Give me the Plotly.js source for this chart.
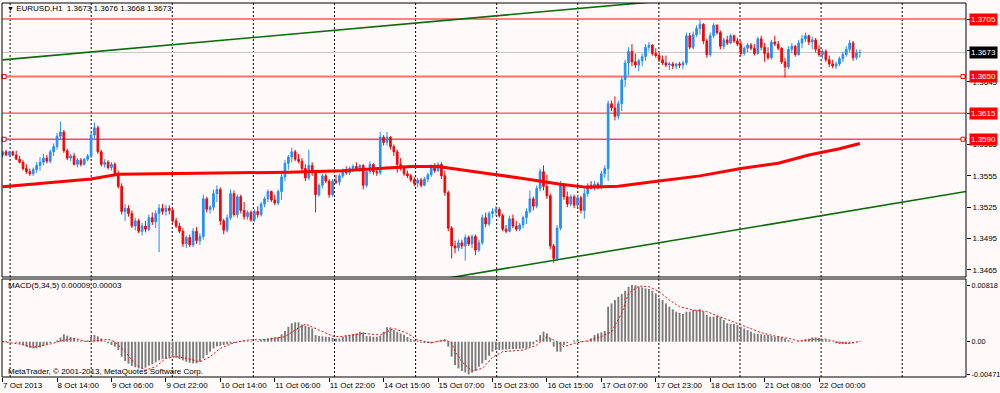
<!DOCTYPE html>
<html><head><meta charset="utf-8">
<script src="https://cdn.plot.ly/plotly-3.0.1.min.js"></script>
<style>html,body{margin:0;padding:0;background:#FFFAFA;}#chart{width:1000px;height:393px;}</style>
</head><body><div id="chart"></div>
<script>
// ---------- DATA ----------
const symbol = 'EURUSD,H1';
const tickLabels = ['7 Oct 2013','8 Oct 14:00','9 Oct 06:00','9 Oct 22:00','10 Oct 14:00','11 Oct 06:00','11 Oct 22:00','14 Oct 15:00','15 Oct 07:00','15 Oct 23:00','16 Oct 15:00','17 Oct 07:00','17 Oct 23:00','18 Oct 15:00','21 Oct 08:00','22 Oct 00:00'];
const tickBars = [0,16,32,48,64,80,96,112,128,144,160,176,192,208,224,240];

const open = [1.3575,1.3578,1.3575,1.3578,1.3575,1.3571,1.3568,1.3562,1.3559,1.3557,
1.3561,1.3565,1.3568,1.3572,1.3569,1.3578,1.3583,1.3593,1.3597,1.3579,
1.3572,1.3574,1.3566,1.3570,1.3566,1.3571,1.3574,1.3594,1.3601,1.3578,
1.3566,1.3568,1.3563,1.3566,1.3557,1.3545,1.3521,1.3524,1.3519,1.3507,
1.3512,1.3502,1.3507,1.3504,1.3515,1.3511,1.3519,1.3524,1.3521,1.3524,
1.3522,1.3512,1.3507,1.3502,1.3490,1.3496,1.3489,1.3502,1.3493,1.3497,
1.3533,1.3523,1.3525,1.3538,1.3542,1.3512,1.3503,1.3515,1.3538,1.3518,
1.3535,1.3522,1.3516,1.3520,1.3513,1.3521,1.3518,1.3528,1.3533,1.3540,
1.3532,1.3529,1.3540,1.3554,1.3567,1.3573,1.3578,1.3571,1.3569,1.3562,
1.3553,1.3565,1.3558,1.3537,1.3546,1.3555,1.3550,1.3537,1.3550,1.3549,
1.3555,1.3560,1.3558,1.3562,1.3564,1.3562,1.3565,1.3546,1.3559,1.3566,
1.3559,1.3558,1.3592,1.3587,1.3592,1.3583,1.3578,1.3566,1.3562,1.3557,
1.3555,1.3551,1.3548,1.3551,1.3546,1.3552,1.3556,1.3564,1.3560,1.3566,
1.3555,1.3539,1.3505,1.3488,1.3486,1.3491,1.3488,1.3496,1.3490,1.3497,
1.3484,1.3491,1.3515,1.3509,1.3519,1.3521,1.3523,1.3517,1.3504,1.3502,
1.3514,1.3507,1.3504,1.3508,1.3515,1.3521,1.3533,1.3526,1.3543,1.3559,
1.3545,1.3536,1.3488,1.3476,1.3505,1.3546,1.3535,1.3528,1.3535,1.3527,
1.3534,1.3522,1.3538,1.3546,1.3544,1.3547,1.3544,1.3557,1.3562,1.3624,
1.3620,1.3612,1.3624,1.3647,1.3663,1.3674,1.3664,1.3661,1.3665,1.3669,
1.3678,1.3680,1.3672,1.3670,1.3666,1.3663,1.3661,1.3662,1.3660,1.3662,
1.3661,1.3663,1.3689,1.3678,1.3690,1.3696,1.3700,1.3684,1.3671,1.3689,
1.3699,1.3692,1.3679,1.3685,1.3682,1.3689,1.3684,1.3681,1.3672,1.3677,
1.3680,1.3677,1.3672,1.3686,1.3678,1.3672,1.3668,1.3683,1.3681,1.3677,
1.3664,1.3659,1.3676,1.3679,1.3671,1.3682,1.3686,1.3689,1.3683,1.3685,
1.3676,1.3671,1.3674,1.3666,1.3662,1.3660,1.3662,1.3667,1.3671,1.3676,
1.3682,1.3668,1.3673];

const high = [1.3579,1.3580,1.3579,1.3579,1.3579,1.3574,1.3570,1.3566,1.3562,1.3563,
1.3568,1.3573,1.3576,1.3575,1.3580,1.3586,1.3596,1.3607,1.3599,1.3581,
1.3576,1.3577,1.3572,1.3572,1.3572,1.3576,1.3596,1.3606,1.3603,1.3580,
1.3571,1.3570,1.3568,1.3568,1.3560,1.3548,1.3528,1.3527,1.3522,1.3515,
1.3514,1.3510,1.3512,1.3518,1.3520,1.3522,1.3528,1.3528,1.3527,1.3527,
1.3524,1.3515,1.3510,1.3505,1.3498,1.3499,1.3505,1.3506,1.3500,1.3537,
1.3535,1.3527,1.3542,1.3546,1.3544,1.3514,1.3518,1.3542,1.3541,1.3537,
1.3537,1.3530,1.3522,1.3522,1.3523,1.3526,1.3530,1.3535,1.3542,1.3541,
1.3537,1.3542,1.3557,1.3570,1.3575,1.3582,1.3580,1.3576,1.3572,1.3566,
1.3580,1.3568,1.3560,1.3548,1.3557,1.3557,1.3552,1.3552,1.3556,1.3557,
1.3562,1.3564,1.3564,1.3566,1.3568,1.3566,1.3566,1.3561,1.3569,1.3567,
1.3562,1.3597,1.3594,1.3597,1.3593,1.3585,1.3580,1.3572,1.3565,1.3560,
1.3557,1.3554,1.3553,1.3553,1.3554,1.3558,1.3566,1.3567,1.3568,1.3568,
1.3560,1.3541,1.3507,1.3493,1.3494,1.3494,1.3499,1.3498,1.3499,1.3499,
1.3494,1.3518,1.3520,1.3521,1.3524,1.3526,1.3525,1.3519,1.3508,1.3517,
1.3518,1.3512,1.3510,1.3517,1.3524,1.3541,1.3535,1.3546,1.3562,1.3565,
1.3556,1.3538,1.3490,1.3508,1.3550,1.3548,1.3540,1.3537,1.3537,1.3537,
1.3536,1.3543,1.3548,1.3550,1.3550,1.3549,1.3560,1.3565,1.3627,1.3627,
1.3631,1.3627,1.3650,1.3666,1.3678,1.3681,1.3672,1.3667,1.3672,1.3681,
1.3683,1.3681,1.3677,1.3674,1.3670,1.3670,1.3664,1.3664,1.3663,1.3664,
1.3665,1.3692,1.3692,1.3693,1.3699,1.3705,1.3701,1.3686,1.3692,1.3701,
1.3700,1.3694,1.3687,1.3689,1.3691,1.3690,1.3687,1.3684,1.3679,1.3682,
1.3682,1.3681,1.3688,1.3689,1.3682,1.3678,1.3685,1.3689,1.3684,1.3678,
1.3668,1.3679,1.3682,1.3680,1.3685,1.3690,1.3692,1.3690,1.3688,1.3687,
1.3680,1.3676,1.3676,1.3670,1.3666,1.3664,1.3669,1.3674,1.3679,1.3685,
1.3684,1.3676,1.3676];

const low = [1.3573,1.3574,1.3573,1.3574,1.3570,1.3567,1.3560,1.3557,1.3555,1.3555,
1.3558,1.3560,1.3565,1.3567,1.3567,1.3574,1.3580,1.3590,1.3577,1.3570,
1.3569,1.3565,1.3563,1.3564,1.3565,1.3569,1.3572,1.3590,1.3576,1.3564,
1.3563,1.3561,1.3560,1.3555,1.3543,1.3518,1.3512,1.3516,1.3505,1.3503,
1.3500,1.3498,1.3501,1.3502,1.3508,1.3505,1.3482,1.3518,1.3517,1.3518,
1.3510,1.3505,1.3500,1.3487,1.3486,1.3487,1.3487,1.3490,1.3489,1.3494,
1.3520,1.3519,1.3522,1.3530,1.3508,1.3499,1.3501,1.3513,1.3516,1.3515,
1.3519,1.3513,1.3513,1.3511,1.3511,1.3515,1.3516,1.3525,1.3530,1.3530,
1.3527,1.3527,1.3532,1.3550,1.3561,1.3568,1.3569,1.3567,1.3559,1.3550,
1.3551,1.3555,1.3520,1.3535,1.3543,1.3548,1.3534,1.3535,1.3547,1.3546,
1.3553,1.3556,1.3556,1.3559,1.3561,1.3559,1.3542,1.3544,1.3557,1.3556,
1.3555,1.3556,1.3584,1.3584,1.3580,1.3574,1.3558,1.3560,1.3555,1.3553,
1.3549,1.3545,1.3544,1.3544,1.3545,1.3549,1.3554,1.3558,1.3559,1.3552,
1.3536,1.3502,1.3476,1.3481,1.3483,1.3485,1.3474,1.3488,1.3486,1.3479,
1.3482,1.3489,1.3506,1.3507,1.3515,1.3517,1.3515,1.3502,1.3500,1.3501,
1.3505,1.3502,1.3502,1.3505,1.3509,1.3519,1.3522,1.3524,1.3540,1.3541,
1.3533,1.3485,1.3472,1.3474,1.3503,1.3532,1.3525,1.3526,1.3524,1.3525,
1.3519,1.3514,1.3535,1.3542,1.3541,1.3542,1.3542,1.3553,1.3550,1.3617,
1.3608,1.3609,1.3617,1.3640,1.3651,1.3660,1.3658,1.3655,1.3660,1.3665,
1.3674,1.3670,1.3668,1.3664,1.3661,1.3659,1.3656,1.3657,1.3657,1.3658,
1.3657,1.3661,1.3676,1.3676,1.3688,1.3690,1.3681,1.3668,1.3669,1.3687,
1.3690,1.3676,1.3676,1.3680,1.3681,1.3682,1.3679,1.3669,1.3670,1.3673,
1.3675,1.3670,1.3671,1.3675,1.3664,1.3666,1.3666,1.3679,1.3675,1.3662,
1.3649,1.3657,1.3672,1.3669,1.3670,1.3677,1.3683,1.3680,1.3676,1.3673,
1.3669,1.3667,1.3664,1.3659,1.3658,1.3657,1.3660,1.3664,1.3669,1.3673,
1.3665,1.3666,1.3668];

const close = [1.3578,1.3575,1.3578,1.3575,1.3571,1.3568,1.3562,1.3559,1.3557,1.3561,
1.3565,1.3568,1.3572,1.3569,1.3578,1.3583,1.3593,1.3597,1.3579,1.3572,
1.3574,1.3566,1.3570,1.3566,1.3571,1.3574,1.3594,1.3601,1.3578,1.3566,
1.3568,1.3563,1.3566,1.3557,1.3545,1.3521,1.3524,1.3519,1.3507,1.3512,
1.3502,1.3507,1.3504,1.3515,1.3511,1.3519,1.3524,1.3521,1.3524,1.3522,
1.3512,1.3507,1.3502,1.3490,1.3496,1.3489,1.3502,1.3493,1.3497,1.3533,
1.3523,1.3525,1.3538,1.3542,1.3512,1.3503,1.3515,1.3538,1.3518,1.3535,
1.3522,1.3516,1.3520,1.3513,1.3521,1.3518,1.3528,1.3533,1.3540,1.3532,
1.3529,1.3540,1.3554,1.3567,1.3573,1.3578,1.3571,1.3569,1.3562,1.3553,
1.3565,1.3558,1.3537,1.3546,1.3555,1.3550,1.3537,1.3550,1.3549,1.3555,
1.3560,1.3558,1.3562,1.3564,1.3562,1.3565,1.3546,1.3559,1.3566,1.3559,
1.3558,1.3592,1.3587,1.3592,1.3583,1.3578,1.3566,1.3562,1.3557,1.3555,
1.3551,1.3548,1.3551,1.3546,1.3552,1.3556,1.3564,1.3560,1.3566,1.3555,
1.3539,1.3505,1.3488,1.3486,1.3491,1.3488,1.3496,1.3490,1.3497,1.3484,
1.3491,1.3515,1.3509,1.3519,1.3521,1.3523,1.3517,1.3504,1.3502,1.3514,
1.3507,1.3504,1.3508,1.3515,1.3521,1.3533,1.3526,1.3543,1.3559,1.3545,
1.3536,1.3488,1.3476,1.3505,1.3546,1.3535,1.3528,1.3535,1.3527,1.3534,
1.3522,1.3538,1.3546,1.3544,1.3547,1.3544,1.3557,1.3562,1.3624,1.3620,
1.3612,1.3624,1.3647,1.3663,1.3674,1.3664,1.3661,1.3665,1.3669,1.3678,
1.3680,1.3672,1.3670,1.3666,1.3663,1.3661,1.3662,1.3660,1.3662,1.3661,
1.3663,1.3689,1.3678,1.3690,1.3696,1.3700,1.3684,1.3671,1.3689,1.3699,
1.3692,1.3679,1.3685,1.3682,1.3689,1.3684,1.3681,1.3672,1.3677,1.3680,
1.3677,1.3672,1.3686,1.3678,1.3672,1.3668,1.3683,1.3681,1.3677,1.3664,
1.3659,1.3676,1.3679,1.3671,1.3682,1.3686,1.3689,1.3683,1.3685,1.3676,
1.3671,1.3674,1.3666,1.3662,1.3660,1.3662,1.3667,1.3671,1.3676,1.3682,
1.3668,1.3673,1.3673];

// moving average (red thick line), read at a few bars
const maBars = [0,12,26,34,46,62,84,100,111,120,128,134,143,152,164,172,181,190,205,217,228,237,246,252];
const maValues = [1.35445,1.3548,1.3552,1.35565,1.3557,1.3557,1.35585,1.3560,1.3562,1.3564,1.3564,1.3561,1.3557,1.3553,1.3547,1.3544,1.3545,1.3549,1.3555,1.3562,1.3567,1.3575,1.3581,1.3586];

// trend lines (green)
const trendUpperBars = [0, 252];
const trendUpperPrices = [1.36659, 1.37390];
const trendLowerBars = [130, 284];
const trendLowerPrices = [1.34568, 1.35405];

// horizontal levels
const levels = [1.3705, 1.3650, 1.3615, 1.3590];
const bidPrice = 1.3673;
const priceTicks = [1.3465,1.3495,1.3525,1.3555,1.3585,1.3615,1.3645,1.3675,1.3705];

// MACD(5,34,5) histogram
const macd = [0.00010,0.00010,0.00005,0,-0.00014,-0.00029,-0.00048,-0.00072,-0.00087,-0.00096,
-0.00096,-0.00082,-0.00058,-0.00038,-0.00019,0,0.00019,0.00058,0.00106,0.00087,
0.00067,0.00038,0.00019,0.00014,0.00010,0.00019,0.00067,0.00096,0.00077,0.00048,
0.00014,-0.00024,-0.00048,-0.00072,-0.00120,-0.00216,-0.00279,-0.00317,-0.00351,-0.00370,
-0.00385,-0.00385,-0.00375,-0.00346,-0.00327,-0.00298,-0.00269,-0.00250,-0.00240,-0.00231,
-0.00226,-0.00231,-0.00250,-0.00269,-0.00289,-0.00303,-0.00313,-0.00313,-0.00289,-0.00240,
-0.00192,-0.00144,-0.00096,-0.00067,-0.00058,-0.00048,-0.00038,-0.00029,-0.00019,-0.00010,
-0.00005,0.00010,0.00014,0.00005,0,0.00010,0.00024,0.00038,0.00048,0.00058,
0.00063,0.00067,0.00106,0.00154,0.00216,0.00265,0.00279,0.00279,0.00250,0.00231,
0.00216,0.00192,0.00096,0.00082,0.00077,0.00072,0.00067,0.00058,0.00048,0.00048,
0.00072,0.00087,0.00096,0.00106,0.00120,0.00144,0.00135,0.00082,0.00077,0.00072,
0.00072,0.00082,0.00144,0.00207,0.00207,0.00168,0.00144,0.00120,0.00096,0.00067,
0.00038,0.00024,0.00014,-0.00014,-0.00019,-0.00019,-0.00024,-0.00010,0.00014,0.00024,
0.00034,-0.00072,-0.00216,-0.00337,-0.00385,-0.00423,-0.00443,-0.00471,-0.00447,-0.00423,
-0.00361,-0.00313,-0.00265,-0.00202,-0.00144,-0.00120,-0.00120,-0.00115,-0.00111,-0.00106,
-0.00106,-0.00106,-0.00101,-0.00096,-0.00096,-0.00072,-0.00038,0.00024,0.00096,0.00144,
0.00120,0.00048,-0.00072,-0.00144,-0.00144,-0.00048,-0.00019,0,0.00019,0.00024,
0.00010,0.00005,0.00014,0.00048,0.00096,0.00120,0.00135,0.00154,0.00505,0.00553,
0.00601,0.00649,0.00688,0.00736,0.00794,0.00818,0.00813,0.00794,0.00784,0.00770,
0.00760,0.00736,0.00697,0.00625,0.00601,0.00553,0.00505,0.00467,0.00433,0.00418,
0.00399,0.00433,0.00433,0.00457,0.00457,0.00467,0.00433,0.00385,0.00361,0.00361,
0.00370,0.00351,0.00313,0.00265,0.00255,0.00255,0.00240,0.00216,0.00192,0.00168,
0.00144,0.00120,0.00111,0.00106,0.00101,0.00096,0.00082,0.00072,0.00072,0.00063,
0.00048,0.00024,-0.00014,0,0.00010,0.00010,0.00034,0.00043,0.00063,0.00063,
0.00053,0.00034,0.00024,0.00014,0,-0.00024,-0.00034,-0.00034,-0.00034,-0.00024,
-0.00024,-0.00005,0.00009];

// MACD signal line (red dotted), read at a few bars
const sigBars = [0,5,9,14,17,21,25,28,31,33,36,38,40,42,45,48,51,54,58,61,64,68,72,78,83,86,89,93,97,99,106,111,115,119,122,126,130,132,133,135,138,141,144,147,153,157,160,163,165,168,172,176,179,182,184,187,190,193,196,199,203,207,211,215,219,223,227,231,234,238,242,246,249,252];
const sigValues = [0,-0.00034,-0.00082,-0.00034,0.00010,0.00048,0,0.00014,0.00034,0,-0.00144,-0.00265,-0.00361,-0.00409,-0.00361,-0.00240,-0.00216,-0.00240,-0.00289,-0.00216,-0.00096,-0.00014,0.00024,0.00034,0.00072,0.00168,0.00255,0.00168,0.00082,0.00072,0.00120,0.00096,0.00192,0.00120,0.00024,-0.00014,0.00024,-0.00014,-0.00144,-0.00289,-0.00423,-0.00385,-0.00226,-0.00144,-0.00120,-0.00048,0.00072,0,-0.00072,-0.00024,0.00014,0.00072,0.00144,0.00409,0.00697,0.00803,0.00794,0.00722,0.00601,0.00505,0.00457,0.00433,0.00361,0.00289,0.00207,0.00130,0.00082,0.00048,0.00010,0.00034,0.00038,-0.00014,-0.00024,0.00003];

// ---------- CHART ----------
const n = close.length;
const bars = Array.from({length: n}, (_, i) => i);
const last = n - 1;
const f4 = v => v.toFixed(4);
const macdMax = Math.max(...macd), macdMin = Math.min(...macd);

const FONT = 'Liberation Sans, Arial, DejaVu Sans, sans-serif';
const RED = '#FF0000', BLUE = '#1E90FF', GREEN = '#0B6A0B';

const traces = [
  {type:'scatter', mode:'lines', x:maBars, y:maValues, xaxis:'x', yaxis:'y',
   line:{color:RED, width:3}, hoverinfo:'skip'},
  {type:'scatter', mode:'lines', x:trendUpperBars, y:trendUpperPrices, xaxis:'x', yaxis:'y',
   line:{color:GREEN, width:1.6}, hoverinfo:'skip'},
  {type:'scatter', mode:'lines', x:trendLowerBars, y:trendLowerPrices, xaxis:'x', yaxis:'y',
   line:{color:GREEN, width:1.6}, hoverinfo:'skip'},
  {type:'candlestick', x:bars, open:open, high:high, low:low, close:close, xaxis:'x', yaxis:'y',
   increasing:{line:{color:BLUE, width:1}, fillcolor:BLUE},
   decreasing:{line:{color:RED, width:1}, fillcolor:RED},
   whiskerwidth:0, hoverinfo:'skip'},
  {type:'bar', x:bars, y:macd, xaxis:'x', yaxis:'y2', width:0.55,
   marker:{color:'#7A7A7A', line:{width:0}}, hoverinfo:'skip'},
  {type:'scatter', mode:'lines', x:sigBars, y:sigValues, xaxis:'x', yaxis:'y2',
   line:{color:RED, width:1, dash:'2px,2px'}, hoverinfo:'skip'}
];

const shapes = [];
// vertical dotted grid
const gridStart = 2.2, gridStep = 23.84;
for (let k = 0; k < 12; k++) {
  const gx = gridStart + k * gridStep;
  shapes.push({type:'line', xref:'x', yref:'paper', x0:gx, x1:gx, y0:0, y1:1, layer:'below',
    line:{color:'#000000', width:1, dash:'2px,2px'}});
}
// bid line
shapes.push({type:'line', xref:'paper', yref:'y', x0:0, x1:1, y0:bidPrice, y1:bidPrice, layer:'below',
  line:{color:'#C8C8C8', width:1}});
// horizontal level lines
const levelStyles = [{c:'#FF5A5A', w:1.5}, {c:'#FF7070', w:2}, {c:'#FF1E1E', w:1}, {c:'#FF4A4A', w:1.5}];
levels.forEach((lv, k) => {
  shapes.push({type:'line', xref:'paper', yref:'y', x0:0, x1:1, y0:lv, y1:lv, layer:'below',
    line:{color:levelStyles[k].c, width:levelStyles[k].w}});
});
// selection handles on 1.3650 and 1.3590
[levels[1], levels[3]].forEach(lv => {
  [0.0022, 0.9969].forEach(px => {
    shapes.push({type:'rect', xref:'paper', yref:'y', xsizemode:'pixel', ysizemode:'pixel',
      xanchor:px, yanchor:lv, x0:-2, x1:2, y0:-2, y1:2, line:{color:RED, width:1}, fillcolor:'#FFFFFF'});
  });
});
// panel frames
shapes.push({type:'rect', xref:'paper', yref:'y domain', x0:0, x1:1, y0:0, y1:1, line:{color:'#000', width:1}});
shapes.push({type:'rect', xref:'paper', yref:'y2 domain', x0:0, x1:1, y0:0, y1:1, line:{color:'#000', width:1}});

const annotations = [];
// price boxes on the right scale
levels.forEach(lv => {
  annotations.push({xref:'paper', yref:'y', x:1.0031, y:lv, xanchor:'left', yanchor:'middle', showarrow:false,
    text:f4(lv), bgcolor:'#FF0000', borderpad:1, font:{family:FONT, size:8, color:'#FFFFFF'}});
});
annotations.push({xref:'paper', yref:'y', x:1.0031, y:bidPrice, xanchor:'left', yanchor:'middle', showarrow:false,
  text:f4(bidPrice), bgcolor:'#000000', borderpad:1, font:{family:FONT, size:8, color:'#FFFFFF'}});
// chart title
annotations.push({xref:'paper', yref:'paper', x:0.003, y:0.984, xanchor:'left', yanchor:'middle', showarrow:false,
  text:'<span style="font-size:7px">▼</span> ' + symbol + '  ' + [open[last], high[last], low[last], close[last]].map(f4).join(' '),
  font:{family:FONT, size:8, color:'#000'}});
// MACD label
annotations.push({xref:'paper', yref:'y2 domain', x:0.004, y:0.93, xanchor:'left', yanchor:'middle', showarrow:false,
  text:'MACD(5,34,5) ' + macd[last].toFixed(5) + ' ' + sigValues[sigValues.length-1].toFixed(5),
  font:{family:FONT, size:8, color:'#000'}});
annotations.push({xref:'paper', yref:'y2 domain', x:0.004, y:0.06, xanchor:'left', yanchor:'middle', showarrow:false,
  text:'MetaTrader, © 2001-2013, MetaQuotes Software Corp.',
  font:{family:FONT, size:8, color:'#000'}});

const layout = {
  width:1000, height:393,
  margin:{l:2, r:34, t:3, b:16, pad:0},
  paper_bgcolor:'#FFFAFA', plot_bgcolor:'#FFFAFA',
  showlegend:false, hovermode:false, dragmode:false,
  font:{family:FONT, size:8, color:'#000'},
  xaxis:{anchor:'y2', range:[-0.18, 283.2], rangeslider:{visible:false},
    tickmode:'array', tickvals:tickBars, ticktext:tickLabels, tickangle:0,
    ticks:'outside', ticklen:4, tickcolor:'#000', tickwidth:1,
    ticklabelposition:'outside right',
    showgrid:false, zeroline:false, showline:false,
    tickfont:{family:FONT, size:8, color:'#000'}},
  yaxis:{domain:[0.2674, 1], range:[1.34583, 1.37203], side:'right', anchor:'x',
    tickmode:'array', tickvals:priceTicks, ticktext:priceTicks.map(f4),
    ticks:'outside', ticklen:4, tickcolor:'#000',
    showgrid:false, zeroline:false, showline:false,
    tickfont:{family:FONT, size:8, color:'#000'}},
  yaxis2:{domain:[0, 0.262], range:[-0.005094, 0.009048], side:'right', anchor:'x',
    tickmode:'array', tickvals:[macdMax, 0, macdMin], ticktext:[macdMax.toFixed(5), '0.00', macdMin.toFixed(5)],
    ticks:'outside', ticklen:3, tickcolor:'#000',
    showgrid:false, zeroline:false, showline:false,
    tickfont:{family:FONT, size:7.3, color:'#000'}},
  shapes:shapes, annotations:annotations
};

Plotly.newPlot('chart', traces, layout, {displayModeBar:false, staticPlot:true});
</script>
</body></html>
